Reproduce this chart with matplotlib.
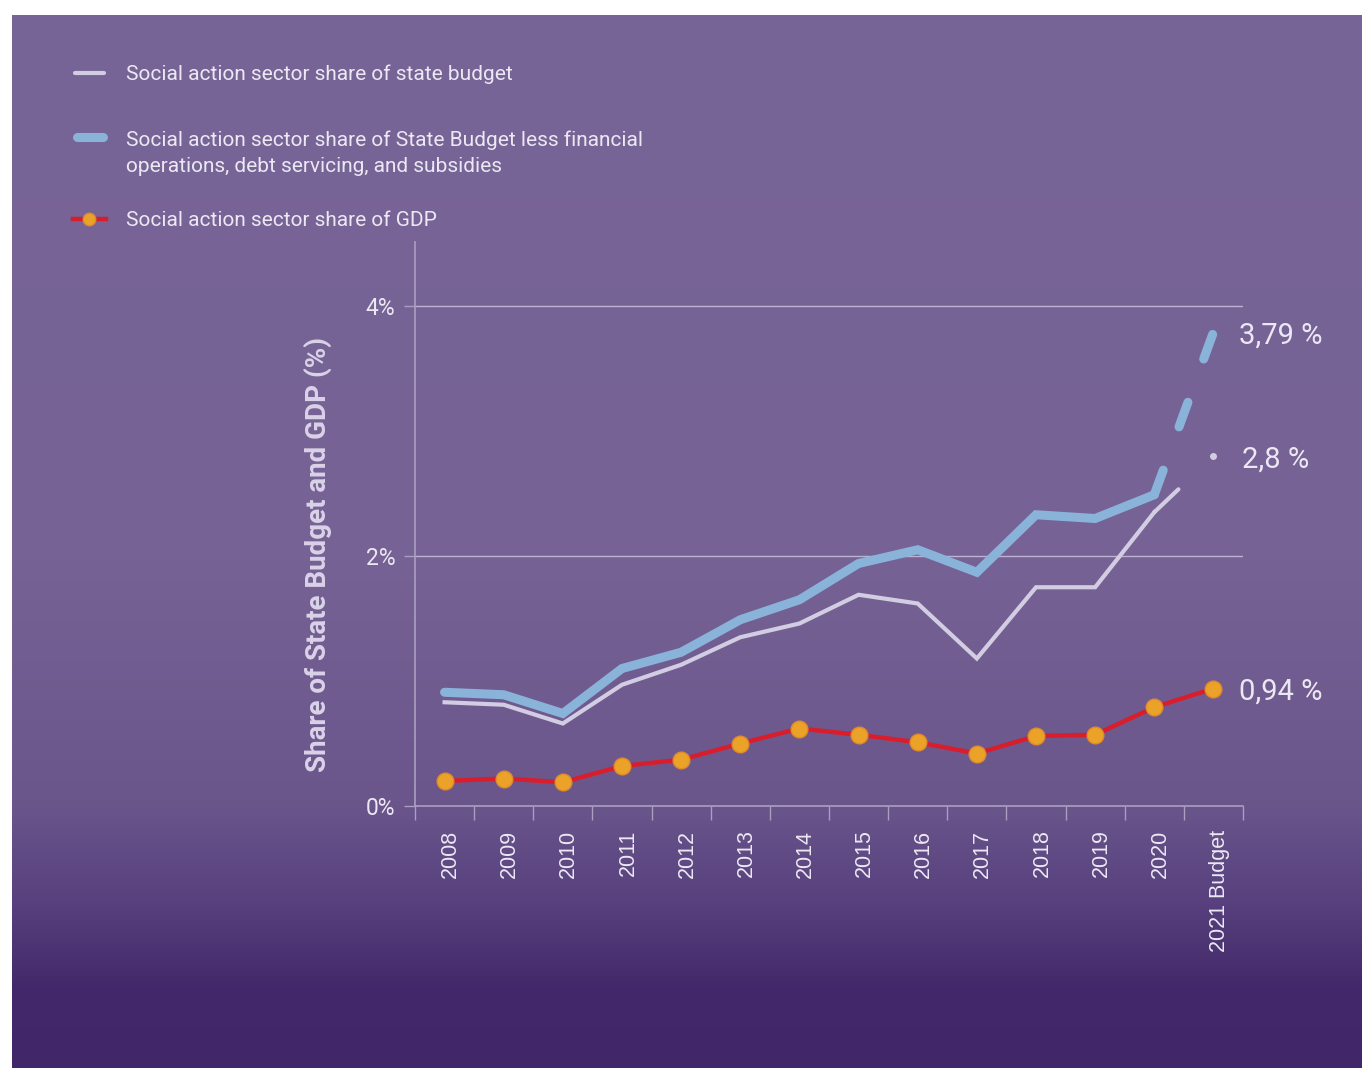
import numpy as np
import matplotlib
matplotlib.use("Agg")
import matplotlib.pyplot as plt
import matplotlib.transforms as mtransforms
from matplotlib.lines import Line2D
from matplotlib.colors import to_rgb

# Social action sector spending, share in %
years = ["2008", "2009", "2010", "2011", "2012", "2013", "2014",
         "2015", "2016", "2017", "2018", "2019", "2020", "2021 Budget"]
state_budget = [0.83, 0.81, 0.66, 0.97, 1.13, 1.35, 1.46,
                1.69, 1.62, 1.18, 1.75, 1.75, 2.35, 2.8]
budget_less_ops = [0.91, 0.89, 0.74, 1.10, 1.23, 1.49, 1.65,
                   1.94, 2.05, 1.87, 2.33, 2.30, 2.49, 3.79]
gdp_share = [0.20, 0.22, 0.19, 0.32, 0.37, 0.50, 0.62,
             0.57, 0.51, 0.42, 0.56, 0.57, 0.79, 0.94]

end_labels = ["3,79 %", "2,8 %", "0,94 %"]

W, H = 1362, 1068
NARROW = ["Liberation Sans Narrow", "Roboto", "DejaVu Sans"]
TXT = "#ece8f3"
C_LIGHT = "#d3cde3"
C_BLUE = "#8ab3da"
C_RED = "#d81e2c"
C_DOT = "#eba228"
C_AXIS = "#aa9fc0"

fig = plt.figure(figsize=(W / 100, H / 100), dpi=100)
fig.patch.set_facecolor("white")

# purple panel with darker bottom
bg = fig.add_axes([12 / W, 0, 1 - 12 / W, 1 - 15 / H], zorder=-10)
stops = [(15, "#786597"), (560, "#766294"), (800, "#6b568c"),
         (900, "#58417e"), (985, "#43296a"), (1068, "#41276a")]
ys = np.arange(15, H)
sy = [s[0] for s in stops]
rgb = np.array([to_rgb(s[1]) for s in stops])
grad = np.stack([np.interp(ys, sy, rgb[:, k]) for k in range(3)], axis=1)
bg.imshow(grad[:, None, :], aspect="auto", extent=[0, 1, 0, 1])
bg.axis("off")

ax = fig.add_axes([415 / W, 1 - 806 / H, (1243 - 415) / W, (806 - 242) / H])
ax.set_facecolor("none")
x = np.arange(len(years))
ax.set_xlim(-0.5, len(years) - 0.5)
ax.set_ylim(0, 4.512)

for s in ["top", "right"]:
    ax.spines[s].set_visible(False)
for s in ["left", "bottom"]:
    ax.spines[s].set_color(C_AXIS)
    ax.spines[s].set_linewidth(1.2)

ax.set_yticks([0, 2, 4])
ax.set_yticklabels(["0%", "2%", "4%"], family=NARROW, fontsize=16.5, color=TXT)
ax.tick_params(axis="y", length=8, width=1, color=C_AXIS, pad=6)
for v in [2, 4]:
    ax.axhline(v, color="#bdb3d0", lw=1, zorder=1)

ax.set_xticks(np.arange(-0.5, len(years)), minor=False)
ax.set_xticklabels([])
ax.set_xticks(x, minor=True)
ax.set_xticklabels(years, minor=True, rotation=90, va="top", ha="center",
                   family="Liberation Sans", fontsize=15.5, color=TXT)
ax.tick_params(axis="x", which="major", length=10, width=1, color=C_AXIS)
ax.tick_params(axis="x", which="minor", length=0, pad=17)
shift = mtransforms.ScaledTranslation(6 / 100, 0, fig.dpi_scale_trans)
for lab in ax.get_xticklabels(minor=True):
    lab.set_transform(lab.get_transform() + shift)

fig.text(318 / W, 1 - 555 / H, "Share of State Budget and GDP (%)",
         family=NARROW, fontweight="bold", fontsize=20, color="#d9d2e8",
         rotation=90, ha="center", va="center")

# solid part up to 2020, dashed projection to the 2021 budget
ax.plot(x[:-1], state_budget[:-1], color=C_LIGHT, lw=3, zorder=3,
        solid_joinstyle="miter")
ax.plot(x[-2:], state_budget[-2:], color=C_LIGHT, lw=3, zorder=3,
        dashes=(8, 100), dash_capstyle="round")
ax.plot(x[-1], state_budget[-1], "o", color=C_LIGHT, ms=4, zorder=3)

ax.plot(x[:-1], budget_less_ops[:-1], color=C_BLUE, lw=6.5, zorder=4,
        solid_capstyle="round", solid_joinstyle="miter")
ax.plot(x[-2:], budget_less_ops[-2:], color=C_BLUE, lw=6.5, zorder=4,
        dashes=(2.9, 5.1), dash_capstyle="round")

ax.plot(x, gdp_share, color=C_RED, lw=3.2, zorder=5, marker="o", ms=12,
        mfc=C_DOT, mec="#df8b2a", mew=1)

for val, lab, dx, dy in zip([budget_less_ops[-1], state_budget[-1], gdp_share[-1]],
                            end_labels, [26, 29, 26], [-3, -4, -3]):
    ax.annotate(lab, (x[-1], val), xytext=(dx, dy), textcoords="offset pixels",
                va="center", ha="left", family=NARROW, fontsize=21, color=TXT,
                annotation_clip=False)

# legend drawn by hand
def fx(px):
    return px / W

def fy(py):
    return 1 - py / H

fig.add_artist(Line2D([fx(75), fx(104)], [fy(73), fy(73)], color=C_LIGHT,
                      lw=3, solid_capstyle="round"))
fig.add_artist(Line2D([fx(77), fx(103)], [fy(137), fy(137)], color=C_BLUE,
                      lw=6.5, solid_capstyle="round"))
fig.add_artist(Line2D([fx(73), fx(106)], [fy(219), fy(219)], color=C_RED,
                      lw=3.2))
fig.add_artist(Line2D([fx(89)], [fy(219)], marker="o", ms=9, mfc=C_DOT,
                      mec="#df8b2a", mew=1, lw=0))

legend_txt = [(74, "Social action sector share of state budget"),
              (140, "Social action sector share of State Budget less financial"),
              (166, "operations, debt servicing, and subsidies"),
              (220, "Social action sector share of GDP")]
for py, t in legend_txt:
    fig.text(fx(126), fy(py), t, family=NARROW, fontsize=15, color=TXT,
             va="center", ha="left")

fig.savefig("out.png", dpi=100)
